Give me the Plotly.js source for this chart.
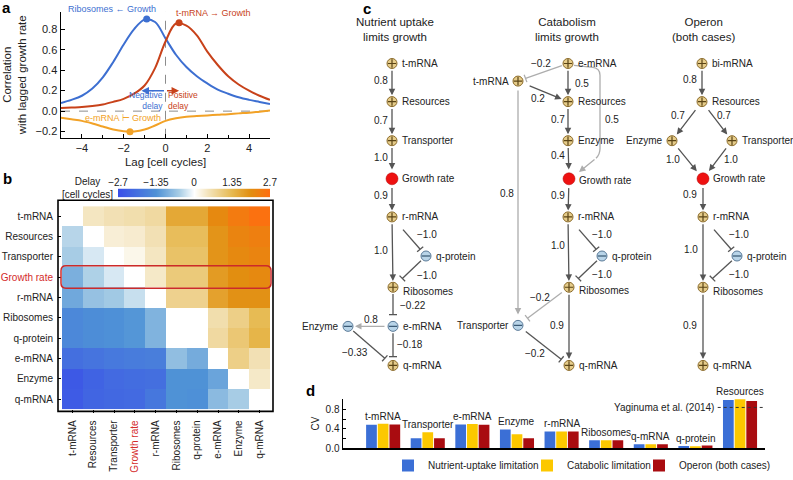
<!DOCTYPE html>
<html>
<head>
<meta charset="utf-8">
<script src="https://cdn.plot.ly/plotly-3.0.1.min.js"></script>
<style>html,body{margin:0;padding:0;background:#fff}#chart{width:793px;height:480px}</style>
</head>
<body>
<div id="chart"></div>
<script>
const W = 793, H = 480;
const FONT = '"Liberation Sans", Arial, Helvetica, sans-serif';

// ---------------- Panel a : lagged correlation with growth rate
const lags = [-5,-4.5,-4,-3.5,-3,-2.5,-2,-1.5,-1,-0.5,0,0.5,1,1.5,2,2.5,3,3.5,4,4.5,5];
const corrRibosomes = [0.08,0.11,0.15,0.22,0.33,0.48,0.65,0.80,0.893,0.87,0.71,0.55,0.43,0.34,0.27,0.21,0.17,0.135,0.11,0.09,0.07];
const corrTmRNA = [0.03,0.035,0.04,0.05,0.065,0.09,0.12,0.17,0.25,0.42,0.68,0.855,0.835,0.74,0.58,0.45,0.34,0.26,0.20,0.15,0.11];
const corrEmRNA = [-0.065,-0.08,-0.095,-0.12,-0.15,-0.18,-0.197,-0.198,-0.18,-0.14,-0.095,-0.07,-0.055,-0.048,-0.042,-0.036,-0.03,-0.022,-0.015,-0.005,0.005];
const extremaLag = [-0.9, 0.65, -1.7];
const extremaCorr = [0.9, 0.862, -0.2];

// ---------------- Panel b : delay matrix [cell cycles]
const species = ['t-mRNA','Resources','Transporter','Growth rate','r-mRNA','Ribosomes','q-protein','e-mRNA','Enzyme','q-mRNA'];
const delayTmRNA       = [0, 0.45, 0.55, 0.6, 0.7, 1.6, 1.6, 2.1, 2.4, 2.6];
const delayResources   = [-0.45, 0, 0.3, 0.35, 0.55, 1.25, 1.25, 1.9, 2.2, 2.3];
const delayTransporter = [-0.55, -0.25, 0, 0.15, 0.45, 1.15, 1.15, 1.9, 2.1, 2.2];
const delayGrowth      = [-0.95, -0.5, -0.25, 0, 0.4, 1.0, 1.0, 1.8, 2.0, 2.1];
const delayRmRNA       = [-1.05, -0.7, -0.6, -0.35, 0, 0.85, 0.85, 1.7, 1.95, 1.95];
const delayRibosomes   = [-1.55, -1.45, -1.4, -1.3, -0.9, 0, 0, 0.6, 0.9, 1.3];
const delayQprotein    = [-1.55, -1.45, -1.4, -1.3, -0.9, 0, 0, 0.7, 1.05, 1.4];
const delayEmRNA       = [-2.05, -1.95, -1.85, -1.8, -1.75, -0.75, -1.0, 0, 0.9, 0.55];
const delayEnzyme      = [-2.5, -2.3, -2.15, -2.1, -2.05, -1.35, -1.35, -1.1, 0, 0.4];
const delayQmRNA       = [-2.45, -2.25, -2.2, -2.15, -1.9, -1.35, -1.4, -0.8, -0.55, 0];
const delayTicks = [-2.7, -1.35, 0, 1.35, 2.7];

// ---------------- Panel c : network edge weights (in drawing order below)
const edgeWeights = [0.8,0.7,1.0,0.9,1.0,-1.0,-1.0,-0.22,0.8,-0.18,-0.33,
                     -0.2,0.5,0.2,0.7,0.5,0.4,0.8,0.9,1.0,-1.0,-1.0,-0.2,0.9,-0.2,
                     0.8,0.7,0.7,1.0,1.0,0.9,1.0,-1.0,-1.0,0.9];

// ---------------- Panel d : coefficient of variation
const cvCategories = ['t-mRNA','Transporter','e-mRNA','Enzyme','r-mRNA','Ribosomes','q-mRNA','q-protein','Resources'];
const cvNutrient  = [0.485,0.21,0.49,0.39,0.35,0.167,0.087,0.053,0.99];
const cvCatabolic = [0.505,0.33,0.5,0.29,0.35,0.167,0.087,0.047,1.01];
const cvOperon    = [0.49,0.21,0.487,0.21,0.35,0.167,0.087,0.06,0.97];
const yaginumaCV = 0.84;

// ================= styles
const BLUE = '#3d6fd1', RED = '#c8421a', ORANGE = '#f2a227';
const BAR_BLUE = '#3b6fd6', BAR_YEL = '#fcc800', BAR_RED = '#a90c10';
const DARK = '#555555', LIGHT = '#adadad';
const fx = p => p / W, fy = p => 1 - p / H;

const traces = [];
const shapes = [];
const annotations = [];

// ---- Panel a traces
[[corrRibosomes, BLUE], [corrTmRNA, RED], [corrEmRNA, ORANGE]].forEach(([ys, c]) => {
  traces.push({type:'scatter', mode:'lines', x:lags, y:ys, xaxis:'x', yaxis:'y',
    line:{color:c, width:2, shape:'spline', smoothing:1}, showlegend:false, hoverinfo:'skip'});
});
traces.push({type:'scatter', mode:'markers', x:extremaLag, y:extremaCorr, xaxis:'x', yaxis:'y',
  marker:{color:[BLUE, RED, ORANGE], size:7}, showlegend:false, hoverinfo:'skip'});

shapes.push({type:'line', xref:'x', yref:'y domain', x0:0, x1:0, y0:0, y1:1, layer:'below',
  line:{color:'#8c8c8c', width:1, dash:'dash'}});
shapes.push({type:'line', xref:'x domain', yref:'y', x0:0, x1:1, y0:0, y1:0, layer:'below',
  line:{color:'#8c8c8c', width:1, dash:'dash'}});

const aText = (x, y, text, color, xanchor, align, size) => annotations.push({xref:'x', yref:'y', x, y, text,
  showarrow:false, xanchor:xanchor || 'center', align:align || 'center', font:{size:size || 9, color, family:FONT}});
// this title sits above the plotted range, so it is placed in page pixels (x5/y5)
annotations.push({xref:'x5', yref:'y5', x:112, y:9, text:'Ribosomes ← Growth', showarrow:false,
  font:{size:9, color:BLUE, family:FONT}});
aText(2.3, 0.955, 't-mRNA → Growth', RED);
aText(-2.05, -0.065, 'e-mRNA ⊢ Growth', ORANGE);
aText(-0.04, 0.1, 'Negative<br>delay', BLUE, 'right', 'right', 8.5);
aText(0.04, 0.1, 'Positive<br>delay', RED, 'left', 'left', 8.5);
annotations.push({xref:'x', yref:'y', axref:'x', ayref:'y', x:-1.15, y:0.2, ax:0, ay:0.2, text:'',
  showarrow:true, arrowhead:2, arrowsize:1, arrowwidth:1.5, arrowcolor:BLUE});
annotations.push({xref:'x', yref:'y', axref:'x', ayref:'y', x:0.65, y:0.2, ax:0, ay:0.2, text:'',
  showarrow:true, arrowhead:2, arrowsize:1, arrowwidth:1.5, arrowcolor:RED});

// ---- Panel b heatmap
const delayMatrix = [delayTmRNA, delayResources, delayTransporter, delayGrowth, delayRmRNA,
  delayRibosomes, delayQprotein, delayEmRNA, delayEnzyme, delayQmRNA];
const delayColorscale = [[0,'#3a4fe8'],[0.25,'#4f92d6'],[0.4,'#a8cde5'],[0.5,'#ffffff'],
  [0.5926,'#f3e3ba'],[0.75,'#e6b84e'],[0.87,'#e28e10'],[1,'#ff6c10']];
traces.push({type:'heatmap', x:species, y:species, z:delayMatrix, xaxis:'x2', yaxis:'y2',
  zmin:-2.7, zmax:2.7, colorscale:delayColorscale, showscale:false, hoverinfo:'skip'});
traces.push({type:'heatmap', x:delayTicks, y:[0,1], z:[delayTicks, delayTicks], xaxis:'x3', yaxis:'y3',
  zmin:-2.7, zmax:2.7, zsmooth:'best', colorscale:delayColorscale, showscale:false, hoverinfo:'skip'});
const speciesTickText = species.map(s => s === 'Growth rate' ? '<span style="color:#d42a2a">Growth rate</span>' : s);

shapes.push({type:'rect', xref:'paper', yref:'paper', x0:fx(58), x1:fx(273), y0:fy(421), y1:fy(205),
  line:{color:'#000', width:1.6}, layer:'above'});
shapes.push({type:'path', xref:'x5', yref:'y5', layer:'above', line:{color:'#cc2a2a', width:1.5},
  path:'M66,272 L266,272 Q271,272 271,277 L271,290 Q271,295 266,295 L66,295 Q61,295 61,290 L61,277 Q61,272 66,272 Z'});
annotations.push({xref:'x5', yref:'y5', x:87, y:192, text:'Delay<br>[cell cycles]', showarrow:false,
  font:{size:10, color:'#222', family:FONT}, align:'center'});

// ---- Panel d bars
[[cvNutrient, BAR_BLUE, 'Nutrient-uptake limitation', 'legend'],
 [cvCatabolic, BAR_YEL, 'Catabolic limitation', 'legend2'],
 [cvOperon, BAR_RED, 'Operon (both cases)', 'legend3']].forEach(([ys, c, name, lg]) => {
  traces.push({type:'bar', x:cvCategories, y:ys, name, xaxis:'x4', yaxis:'y4', legend:lg,
    marker:{color:c, line:{width:0}}, hoverinfo:'skip'});
});
cvCategories.forEach((cat, i) => {
  annotations.push({xref:'x4', yref:'y4', x:cat, y:Math.max(cvNutrient[i], cvCatabolic[i], cvOperon[i]),
    text:cat, showarrow:false, yanchor:'bottom', font:{size:10, color:'#222', family:FONT}});
});
shapes.push({type:'line', xref:'x4', yref:'y4', x0:7.5, x1:8.56, y0:yaginumaCV, y1:yaginumaCV, layer:'above',
  line:{color:'#333', width:1, dash:'dot'}});
annotations.push({xref:'x4', yref:'y4', x:7.46, y:yaginumaCV, text:'Yaginuma et al. (2014)', showarrow:false,
  xanchor:'right', font:{size:10, color:'#222', family:FONT}});

// ---- Panel c network diagram (pixel-space axes x5/y5)
const NODES = {
  A_t:[392,65,'+','t-mRNA','R',0], A_res:[392,104,'+','Resources','R',0], A_tr:[392,144,'+','Transporter','R',0],
  A_g:[392,183,'g','Growth rate','R',0], A_r:[392,222,'+','r-mRNA','R',0], A_q:[426,262,'-','q-protein','R',0],
  A_rib:[393,294,'+','Ribosomes','R',4], A_e:[393,334,'-','e-mRNA','R',0], A_enz:[348,334,'-','Enzyme','L',0],
  A_qm:[393,374,'+','q-mRNA','R',0],
  B_e:[568,65,'+','e-mRNA','R',0], B_t:[518,83,'+','t-mRNA','L',0], B_res:[568,104,'+','Resources','R',0],
  B_enz:[568,144,'+','Enzyme','R',0], B_g:[569,183,'g','Growth rate','R',2], B_r:[568,222,'+','r-mRNA','R',0],
  B_q:[602,262,'-','q-protein','R',0], B_rib:[569,294,'+','Ribosomes','R',3], B_tr:[518,333,'-','Transporter','L',0],
  B_qm:[569,374,'+','q-mRNA','R',0],
  C_bi:[702,65,'+','bi-mRNA','R',0], C_res:[702,104,'+','Resources','R',0], C_enz:[672,144,'+','Enzyme','L',0],
  C_tr:[732,144,'+','Transporter','R',0], C_g:[703,183,'g','Growth rate','R',0], C_r:[703,222,'+','r-mRNA','R',0],
  C_q:[737,262,'-','q-protein','R',0], C_rib:[703,294,'+','Ribosomes','R',4], C_qm:[703,374,'+','q-mRNA','R',0]
};
// from, to, kind (act/inh/curve), tone, label x, label y, trim start, trim end
const EDGES = [
  ['A_t','A_res','act',DARK,381,82], ['A_res','A_tr','act',DARK,381,123], ['A_tr','A_g','act',DARK,381,161,6,9.5],
  ['A_g','A_r','act',DARK,381,200,8], ['A_r','A_rib','act',DARK,381,256], ['A_r','A_q','inh',DARK,426.5,240,17,9],
  ['A_q','A_rib','inh',DARK,426.5,282,7,13], ['A_rib','A_e','inh',DARK,413,313,7,12], ['A_e','A_enz','act',LIGHT,371,327,7,7],
  ['A_e','A_qm','inh',DARK,410,353,7,9], ['A_enz','A_qm','inh',DARK,355,361,7,11],
  ['B_e','B_t','inh',LIGHT,541,65,6.5,8], ['B_e','B_res','act',DARK,582,85], ['B_t','B_res','act',DARK,538,101,11,7],
  ['B_res','B_enz','act',DARK,558,122], ['B_e','B_g','curve',LIGHT,612,122], ['B_enz','B_g','act',DARK,558,159,6,9.5],
  ['B_t','B_tr','act',LIGHT,507,198,8,11], ['B_g','B_r','act',DARK,558,200,8], ['B_r','B_rib','act',DARK,558,251],
  ['B_r','B_q','inh',DARK,602,240,17,9], ['B_q','B_rib','inh',DARK,602,281,7,13], ['B_rib','B_tr','inh',LIGHT,540,304,9,12],
  ['B_rib','B_qm','act',DARK,557,333], ['B_tr','B_qm','inh',DARK,535,362,10,10],
  ['C_bi','C_res','act',DARK,690,81], ['C_res','C_enz','act',DARK,678,118,9,8], ['C_res','C_tr','act',DARK,724,118,9,8],
  ['C_enz','C_g','act',DARK,673,163,8,10], ['C_tr','C_g','act',DARK,731,163,8,10], ['C_g','C_r','act',DARK,690,199,8],
  ['C_r','C_rib','act',DARK,691,255], ['C_r','C_q','inh',DARK,739,240,17,9], ['C_q','C_rib','inh',DARK,739,281,7,13],
  ['C_rib','C_qm','act',DARK,690,333]
];
const fmtW = w => { let s = Math.abs(w).toString(); if (s.indexOf('.') < 0) s += '.0'; return (w < 0 ? '\u2212' : '') + s; };
const arrowAnn = (sx, sy, ex, ey, color) => annotations.push({xref:'x5', yref:'y5', axref:'x5', ayref:'y5',
  x:ex, y:ey, ax:sx, ay:sy, text:'', showarrow:true, arrowhead:2, arrowsize:1, arrowwidth:1.3, arrowcolor:color});

EDGES.forEach((e, i) => {
  const [from, to, kind, color, lx, ly, ts0, te0] = e;
  const a = NODES[from], b = NODES[to];
  if (kind === 'curve') {
    shapes.push({type:'path', xref:'x5', yref:'y5', layer:'below', line:{color, width:1.3},
      path:'M574,67 L593,69 Q600,70 600,77 L600,152 Q600,158 596,162'});
    arrowAnn(596, 162, 579, 176, color);
  } else {
    const dx = b[0]-a[0], dy = b[1]-a[1], L = Math.hypot(dx, dy), ux = dx/L, uy = dy/L;
    const ts = ts0 !== undefined ? ts0 : (kind === 'act' ? 6 : 7);
    const te = te0 !== undefined ? te0 : (kind === 'act' ? 6.5 : 9);
    const sx = a[0]+ux*ts, sy = a[1]+uy*ts, ex = b[0]-ux*te, ey = b[1]-uy*te;
    if (kind === 'act') {
      arrowAnn(sx, sy, ex, ey, color);
    } else {
      shapes.push({type:'line', xref:'x5', yref:'y5', x0:sx, y0:sy, x1:ex, y1:ey, layer:'below', line:{color, width:1.3}});
      shapes.push({type:'line', xref:'x5', yref:'y5', x0:ex-uy*4, y0:ey+ux*4, x1:ex+uy*4, y1:ey-ux*4, layer:'below', line:{color, width:1.3}});
    }
  }
  annotations.push({xref:'x5', yref:'y5', x:lx, y:ly, text:fmtW(edgeWeights[i]), showarrow:false,
    font:{size:10, color:'#222', family:FONT}});
});

const nodeIds = Object.keys(NODES);
const pick = k => nodeIds.filter(id => NODES[id][2] === k);
const plusIds = pick('+'), minusIds = pick('-'), growthIds = pick('g');
const nx = ids => ids.map(id => NODES[id][0]), ny = ids => ids.map(id => NODES[id][1]);
traces.push({type:'scatter', mode:'markers', x:nx(plusIds), y:ny(plusIds), xaxis:'x5', yaxis:'y5',
  marker:{size:10, color:'#e6cc8a', line:{color:'#8a6a2a', width:1}}, showlegend:false, hoverinfo:'skip'});
traces.push({type:'scatter', mode:'markers', x:nx(minusIds), y:ny(minusIds), xaxis:'x5', yaxis:'y5',
  marker:{size:10, color:'#b8d4e8', line:{color:'#5a7a98', width:1}}, showlegend:false, hoverinfo:'skip'});
traces.push({type:'scatter', mode:'markers', x:nx(growthIds), y:ny(growthIds), xaxis:'x5', yaxis:'y5',
  marker:{size:12, color:'#ee1111', line:{color:'#b00000', width:0.5}}, showlegend:false, hoverinfo:'skip'});
traces.push({type:'scatter', mode:'markers', x:nx(plusIds), y:ny(plusIds), xaxis:'x5', yaxis:'y5',
  marker:{size:6, symbol:'cross-thin', color:'#5a4416', line:{color:'#5a4416', width:1.2}}, showlegend:false, hoverinfo:'skip'});
traces.push({type:'scatter', mode:'markers', x:nx(minusIds), y:ny(minusIds), xaxis:'x5', yaxis:'y5',
  marker:{size:6, symbol:'line-ew', color:'#355570', line:{color:'#355570', width:1.2}}, showlegend:false, hoverinfo:'skip'});

nodeIds.forEach(id => {
  const [x, y, k, label, side, dy] = NODES[id];
  annotations.push({xref:'x5', yref:'y5', x: side === 'R' ? x + 8 : x - 7, y: y + dy, text:label, showarrow:false,
    xanchor: side === 'R' ? 'left' : 'right', font:{size:10, color:'#222', family:FONT}});
});
[[395,'Nutrient uptake<br>limits growth'],[567,'Catabolism<br>limits growth'],[703,'Operon<br>(both cases)']].forEach(([x, t]) => {
  annotations.push({xref:'x5', yref:'y5', x, y:30.5, text:t, showarrow:false, font:{size:11.5, color:'#222', family:FONT}});
});

// panel letters
[['a',6,8],['b',7,183],['c',367,9],['d',310,400]].forEach(([t,x,y]) => {
  annotations.push({xref:'x5', yref:'y5', x, y, text:'<b>'+t+'</b>', showarrow:false, font:{size:15, color:'#000', family:FONT}});
});

const axBase = {showgrid:false, zeroline:false, linecolor:'#000', tickcolor:'#000', fixedrange:true,
  tickfont:{size:11, color:'#222', family:FONT}};
const legBase = {orientation:'h', xanchor:'left', yanchor:'top', font:{size:10, color:'#222', family:FONT},
  bgcolor:'rgba(0,0,0,0)', borderwidth:0, y:fy(462)};

const layout = {
  width:W, height:H, margin:{l:0, r:0, t:0, b:0}, paper_bgcolor:'#fff', plot_bgcolor:'rgba(0,0,0,0)',
  font:{family:FONT, color:'#222'}, hovermode:false, showlegend:true,
  bargap:0.215, bargroupgap:0.08, barmode:'group',
  legend:Object.assign({}, legBase, {x:fx(388)}),
  legend2:Object.assign({}, legBase, {x:fx(527)}),
  legend3:Object.assign({}, legBase, {x:fx(639)}),
  xaxis:Object.assign({}, axBase, {domain:[fx(61), fx(270)], anchor:'y', range:[-5,5], tickmode:'linear', tick0:-4, dtick:2,
    ticks:'inside', ticklen:4, showline:true, linewidth:1.5, minor:{dtick:1, tick0:0, ticks:'inside', ticklen:3, tickcolor:'#000'},
    title:{text:'Lag [cell cycles]', font:{size:11.5, color:'#222', family:FONT}, standoff:4}}),
  yaxis:Object.assign({}, axBase, {domain:[fy(141), fy(12)], anchor:'x', range:[-0.26,0.97], tickmode:'linear', tick0:0, dtick:0.2,
    tickformat:'.1f', ticks:'inside', ticklen:4, showline:true, linewidth:1.5,
    title:{text:'Correlation<br>with lagged growth rate', font:{size:11.5, color:'#222', family:FONT}, standoff:6}}),
  xaxis2:Object.assign({}, axBase, {domain:[fx(62), fx(270)], anchor:'y2', type:'category', tickangle:-90,
    tickvals:species, ticktext:speciesTickText, ticks:'outside', ticklen:3, showline:false, ticklabelstandoff:3,
    tickfont:{size:10, color:'#222', family:FONT}}),
  yaxis2:Object.assign({}, axBase, {domain:[fy(419), fy(211)], anchor:'x2', type:'category', autorange:'reversed',
    tickvals:species, ticktext:speciesTickText, ticks:'outside', ticklen:3, showline:false, ticklabelstandoff:3,
    tickfont:{size:10, color:'#222', family:FONT}}),
  xaxis3:Object.assign({}, axBase, {domain:[fx(118), fx(270)], anchor:'y3', range:[-2.7,2.7], side:'top',
    tickvals:delayTicks, ticks:'', showline:false, tickfont:{size:10, color:'#222', family:FONT}}),
  yaxis3:Object.assign({}, axBase, {domain:[fy(202), fy(193)], anchor:'x3', range:[0,1], visible:false}),
  xaxis4:Object.assign({}, axBase, {domain:[fx(343), fx(765)], anchor:'y4', type:'category', range:[-0.9,8.56],
    showticklabels:false, ticks:'', showline:true, linewidth:1.5}),
  yaxis4:Object.assign({}, axBase, {domain:[fy(459), fy(408)], anchor:'x4', range:[0,1.02], tickvals:[0,0.4,0.8],
    tickformat:'.1f', ticks:'inside', ticklen:3, showline:true, linewidth:1.5,
    minor:{tickvals:[0.2,0.6,1.0], ticks:'inside', ticklen:3, tickcolor:'#000'},
    tickfont:{size:10, color:'#222', family:FONT}, title:{text:'CV', font:{size:10, color:'#222', family:FONT}, standoff:4}}),
  xaxis5:{domain:[0,1], anchor:'y5', range:[0,W], visible:false, fixedrange:true},
  yaxis5:{domain:[0,1], anchor:'x5', range:[H,0], visible:false, fixedrange:true},
  shapes, annotations
};

Plotly.newPlot('chart', traces, layout, {displayModeBar:false, staticPlot:true});
</script>
</body>
</html>
